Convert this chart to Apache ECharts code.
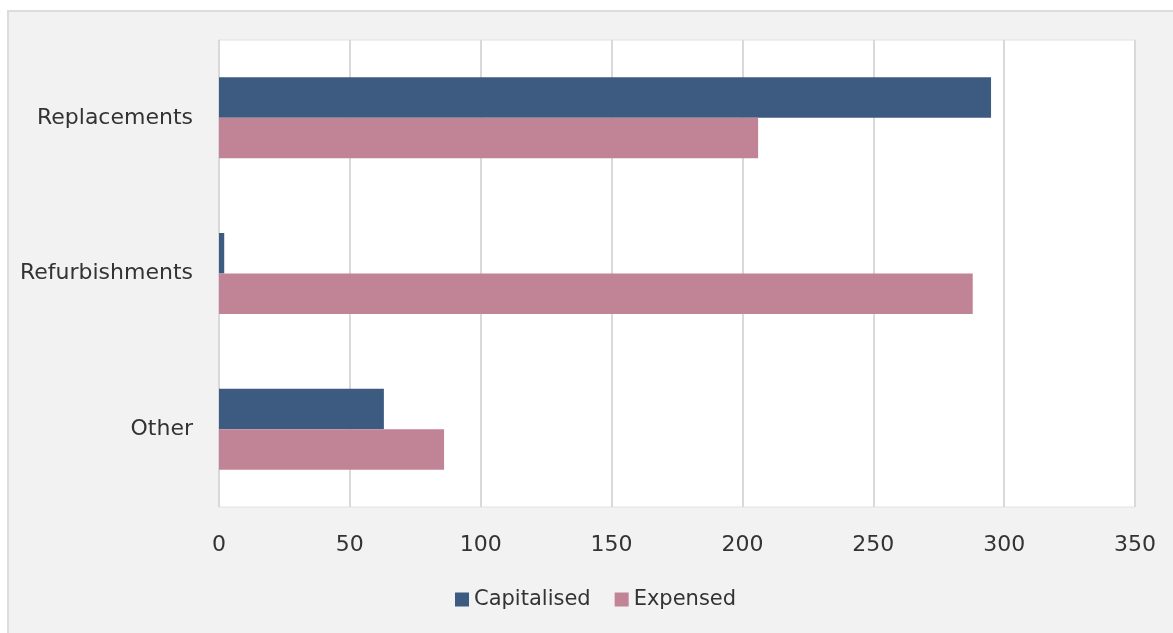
<!DOCTYPE html>
<html>
<head>
<meta charset="utf-8">
<script src="https://cdn.jsdelivr.net/npm/echarts@6/dist/echarts.min.js"></script>
<style>
  html, body { margin: 0; padding: 0; background: #ffffff; }
  #frame { position: absolute; left: 7px; top: 10px; width: 1166px; height: 623px;
           background: #f2f2f2; border-left: 2px solid #dcdcdc; border-top: 2px solid #dcdcdc; box-sizing: border-box; }
  #chart { position: absolute; left: 0; top: 0; width: 1173px; height: 633px; }
</style>
</head>
<body>
<div id="frame"></div>
<div id="chart"></div>
<script>
// Cost categories and amounts per treatment
const categories = ['Replacements', 'Refurbishments', 'Other'];
const capitalised = [295, 2, 63];
const expensed = [206, 288, 86];
const seriesNames = ['Capitalised', 'Expensed'];

const textColor = '#333333';
const fontFamily = '"DejaVu Sans", sans-serif';
const fontSize = 22;

const chart = echarts.init(document.getElementById('chart'), null, { renderer: 'canvas' });
chart.setOption({
  backgroundColor: 'transparent',
  animation: false,
  grid: {
    left: 219, right: 38, top: 40, bottom: 126,
    show: true, backgroundColor: '#ffffff', borderColor: '#e2e2e2', borderWidth: 1
  },
  legend: {
    data: seriesNames,
    top: 584,
    left: 450,
    itemWidth: 14, itemHeight: 14, itemGap: 24,
    icon: 'rect',
    textStyle: { color: textColor, fontSize: 21, fontFamily: fontFamily }
  },
  xAxis: {
    type: 'value',
    min: 0, max: 350, interval: 50,
    axisLine: { show: false },
    axisTick: { show: false },
    splitLine: { lineStyle: { color: '#d9d9d9', width: 2 } },
    axisLabel: { color: textColor, fontSize: fontSize, fontFamily: fontFamily, margin: 27 }
  },
  yAxis: {
    type: 'category',
    data: categories,
    inverse: true,
    axisLine: { show: true, lineStyle: { color: '#d9d9d9', width: 1, type: 'dotted' } },
    axisTick: { show: false },
    axisLabel: { color: textColor, fontSize: fontSize, fontFamily: fontFamily, margin: 26 }
  },
  series: [
    {
      name: seriesNames[0], type: 'bar', data: capitalised,
      barCategoryGap: '48%', barGap: '0%',
      itemStyle: { color: '#3d5a80' }
    },
    {
      name: seriesNames[1], type: 'bar', data: expensed,
      barCategoryGap: '48%', barGap: '0%',
      itemStyle: { color: '#c18497' }
    }
  ]
});
</script>
</body>
</html>
